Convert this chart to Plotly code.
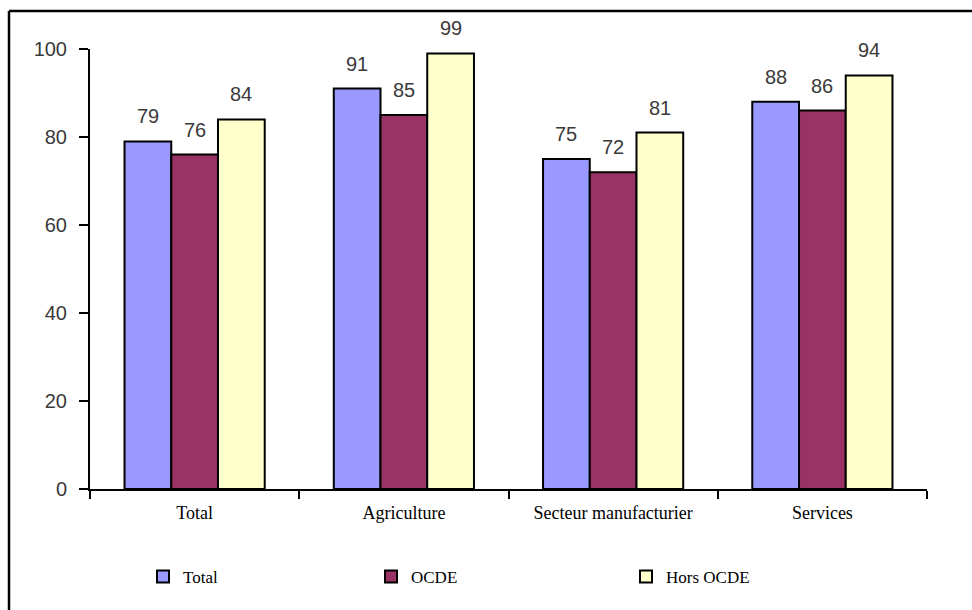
import plotly.graph_objects as go

# Categories and series values
categories = ["Total", "Agriculture", "Secteur manufacturier", "Services"]
series_names = ["Total", "OCDE", "Hors OCDE"]
total_vals = [79, 91, 75, 88]
ocde_vals = [76, 85, 72, 86]
hors_ocde_vals = [84, 99, 81, 94]
y_ticks = [0, 20, 40, 60, 80, 100]

series_values = [total_vals, ocde_vals, hors_ocde_vals]
colors = ["#9999FF", "#993366", "#FFFFCC"]

W, H = 972, 610
M_L, M_R, M_T, M_B = 90, 45, 49, 121
BARGAP = 0.33

plot_w = W - M_L - M_R
plot_h = H - M_T - M_B
slot_px = plot_w / len(categories) * (1 - BARGAP) / len(series_names)

legend_ids = ["legend", "legend2", "legend3"]
legend_x_px = [143, 371, 626]

fig = go.Figure()
for i, (name, vals) in enumerate(zip(series_names, series_values)):
    fig.add_trace(go.Bar(
        x=categories, y=vals, name=name,
        marker=dict(color=colors[i], line=dict(color="black", width=2)),
        legend=legend_ids[i],
    ))
    # value labels above each bar
    for cat, v in zip(categories, vals):
        fig.add_annotation(
            x=cat, y=v, xref="x", yref="y", text=str(v), showarrow=False,
            xshift=(i - 1) * slot_px, yshift=25, yanchor="middle",
            font=dict(family="Liberation Sans, Arial, sans-serif", size=20, color="#3a3a3a"),
        )

legend_common = dict(
    orientation="h", xref="container", yref="container",
    xanchor="left", yanchor="middle", y=1 - 577 / H,
    bgcolor="rgba(0,0,0,0)", borderwidth=0,
    font=dict(family="Liberation Serif, Times New Roman, serif", size=17, color="black"),
)
legends = {}
for lid, lx in zip(legend_ids, legend_x_px):
    legends[lid] = dict(legend_common, x=lx / W)

# outer frame (left and top edges)
fx = (9 - M_L) / plot_w
fy = 1 + (M_T - 11) / plot_h
frame = [
    dict(type="line", xref="paper", yref="paper", x0=fx, x1=1.2, y0=fy, y1=fy,
         line=dict(color="black", width=2.5)),
    dict(type="line", xref="paper", yref="paper", x0=fx, x1=fx, y0=fy, y1=-0.5,
         line=dict(color="black", width=2.5)),
]

fig.update_layout(
    width=W, height=H,
    margin=dict(l=M_L, r=M_R, t=M_T, b=M_B),
    paper_bgcolor="white", plot_bgcolor="white",
    barmode="group", bargap=BARGAP, bargroupgap=0,
    showlegend=True,
    shapes=frame,
    **legends,
)
fig.update_xaxes(
    type="category", tickson="boundaries", ticks="outside", ticklen=8, tickwidth=2,
    tickcolor="black", showline=True, linecolor="black", linewidth=2,
    showgrid=False, zeroline=False, ticklabelstandoff=6,
    tickfont=dict(family="Liberation Serif, Times New Roman, serif", size=18, color="black"),
)
fig.update_yaxes(
    range=[0, 100], tickvals=y_ticks, ticks="outside", ticklen=9, tickwidth=2,
    tickcolor="black", showline=True, linecolor="black", linewidth=2,
    showgrid=False, zeroline=False, ticklabelstandoff=8,
    tickfont=dict(family="Liberation Sans, Arial, sans-serif", size=20, color="#3a3a3a"),
)

fig.write_html("out.html")
